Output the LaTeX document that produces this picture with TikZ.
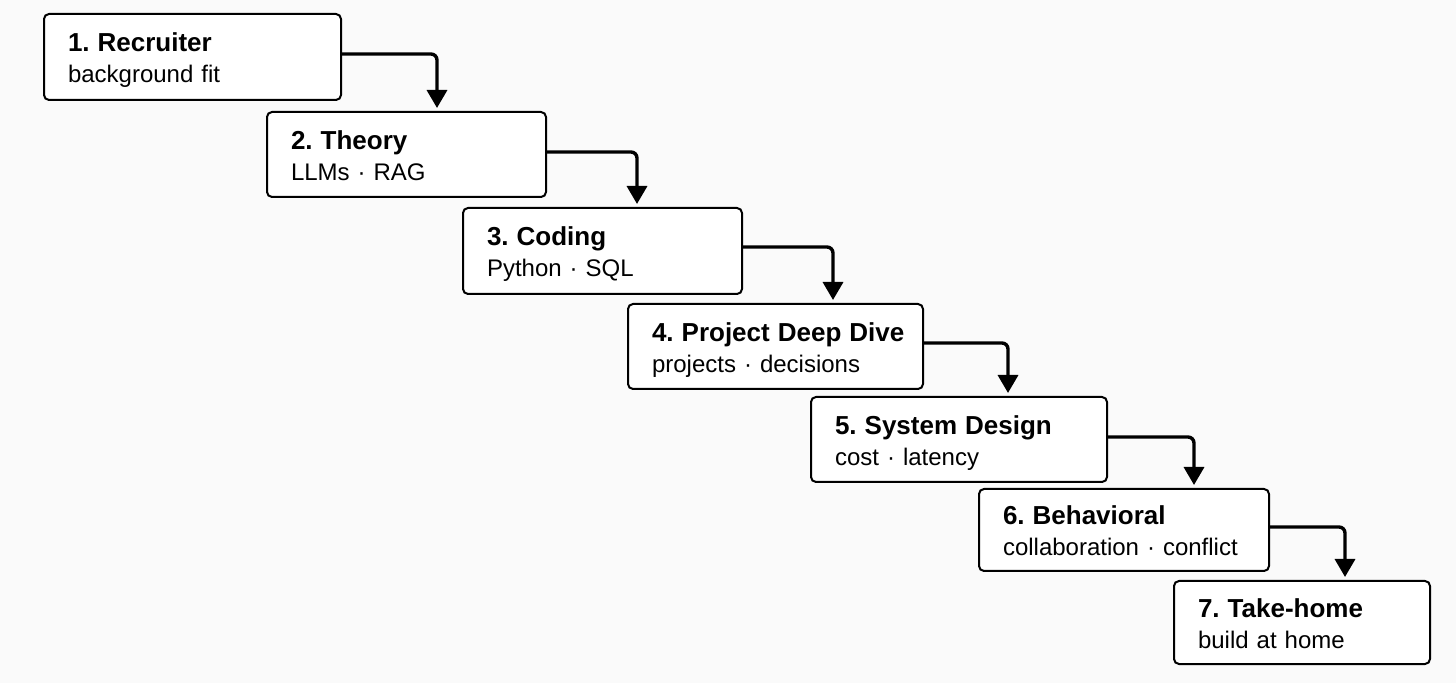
\documentclass[tikz,border=0pt]{standalone}
\usepackage{fontspec}
\setmainfont{Liberation Sans}
\usetikzlibrary{arrows.meta}
\definecolor{grund}{RGB}{250,250,250}
\frenchspacing
\newcommand{\stufe}[2]{\rule{0pt}{16.5pt}\mbox{\fontsize{13}{15.5}\selectfont\bfseries #1}\\\mbox{#2}\rule[-6pt]{0pt}{0pt}}
\tikzset{
  kasten/.style={draw, line width=1pt, rounded corners=2.5pt, fill=white, anchor=north west,
    align=left, inner xsep=12pt, inner ysep=0pt, outer sep=0pt, font=\fontsize{12}{15.5}\selectfont},
  pfeil/.style={line width=1.7pt, rounded corners=3pt, -{Triangle[width=10pt,length=9pt]}, shorten >=2pt}
}
\begin{document}
\begin{tikzpicture}[x=0.5pt,y=-0.5pt]
    \fill[grund] (0,0) rectangle (1456,683);
    \useasboundingbox (0,0) rectangle (1456,683);
    % Kaesten
    \node[kasten, text width=124.5pt, minimum height=43pt]   (b1) at (44,14)   {\stufe{1. Recruiter}{background fit}};
    \node[kasten, text width=115.5pt, minimum height=42.5pt] (b2) at (267,112)  {\stufe{2. Theory}{LLMs · RAG}};
    \node[kasten, text width=115.5pt, minimum height=43pt]   (b3) at (463,208)  {\stufe{3. Coding}{Python · SQL}};
    \node[kasten, text width=123.5pt, minimum height=42.5pt] (b4) at (628,304)  {\stufe{4. Project Deep Dive}{projects · decisions}};
    \node[kasten, text width=124pt,   minimum height=42.5pt] (b5) at (811,397)  {\stufe{5. System Design}{cost · latency}};
    \node[kasten, text width=121pt,   minimum height=41pt]   (b6) at (979,489)  {\stufe{6. Behavioral}{collaboration · conflict}};
    \node[kasten, text width=104pt,   minimum height=41.5pt] (b7) at (1174,581) {\stufe{7. Take-home}{build at home}};

    % Knicke
    \coordinate (k1) at (437,54);
    \coordinate (k2) at (637,152);
    \coordinate (k3) at (833,247);
    \coordinate (k4) at (1008,343);
    \coordinate (k5) at (1194,437);
    \coordinate (k6) at (1345,527);

    % Pfeile
    \draw[pfeil] (b1.east |- k1) -| (k1 |- b2.north);
    \draw[pfeil] (b2.east |- k2) -| (k2 |- b3.north);
    \draw[pfeil] (b3.east |- k3) -| (k3 |- b4.north);
    \draw[pfeil] (b4.east |- k4) -| (k4 |- b5.north);
    \draw[pfeil] (b5.east |- k5) -| (k5 |- b6.north);
    \draw[pfeil] (b6.east |- k6) -| (k6 |- b7.north);
\end{tikzpicture}
\end{document}
